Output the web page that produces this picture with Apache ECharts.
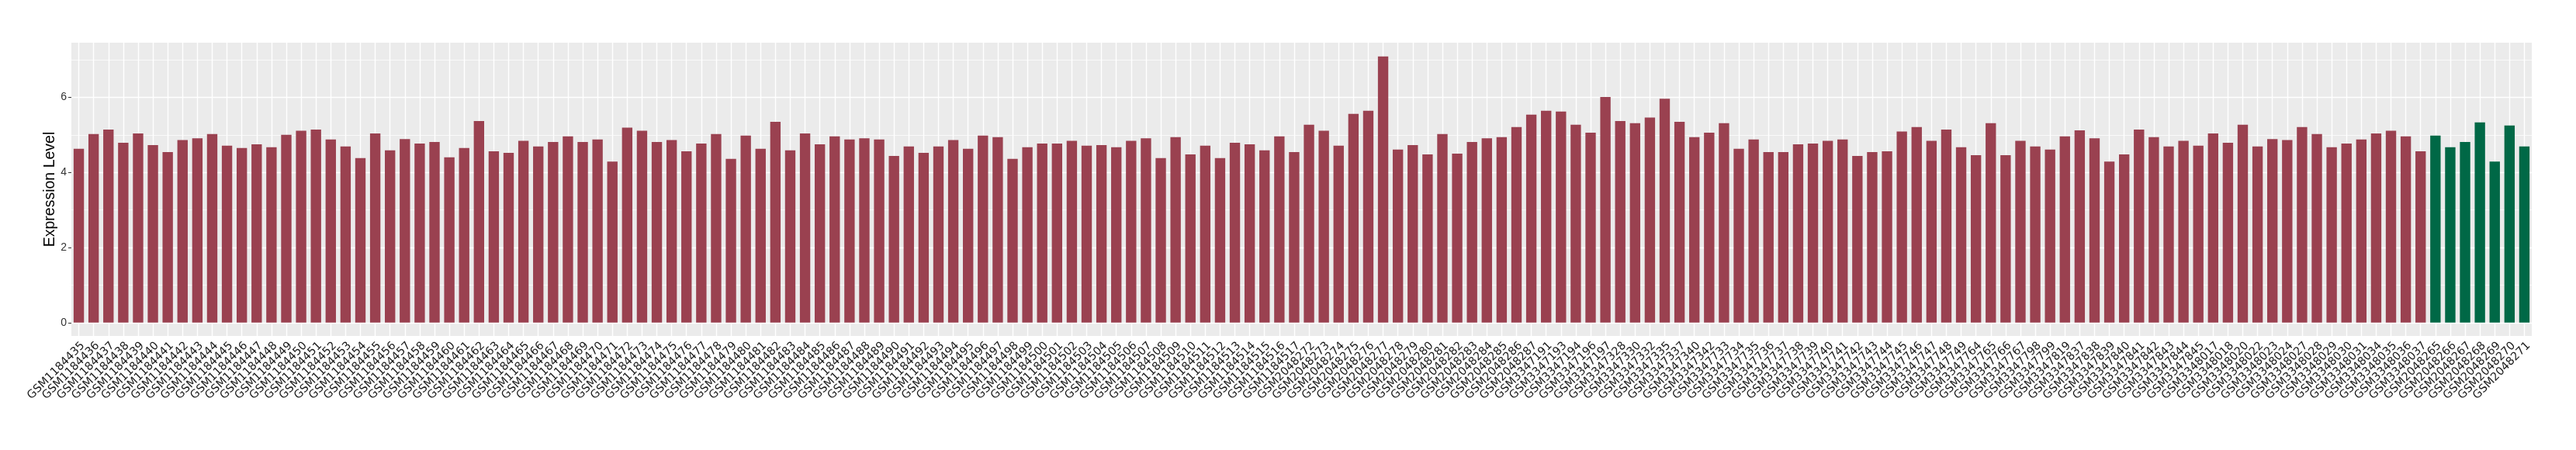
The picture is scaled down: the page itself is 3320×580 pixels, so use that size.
<!DOCTYPE html>
<html><head><meta charset="utf-8">
<script src="https://cdn.jsdelivr.net/npm/echarts@6/dist/echarts.min.js"></script>
<style>html,body{margin:0;padding:0;background:#fff}#c{width:3320px;height:580px}</style>
</head><body><div id="c"></div>
<script>
// ---- data ----
const groupASamples = [
 'GSM1184435','GSM1184436','GSM1184437','GSM1184438','GSM1184439','GSM1184440','GSM1184441','GSM1184442','GSM1184443','GSM1184444',
 'GSM1184445','GSM1184446','GSM1184447','GSM1184448','GSM1184449','GSM1184450','GSM1184451','GSM1184452','GSM1184453','GSM1184454',
 'GSM1184455','GSM1184456','GSM1184457','GSM1184458','GSM1184459','GSM1184460','GSM1184461','GSM1184462','GSM1184463','GSM1184464',
 'GSM1184465','GSM1184466','GSM1184467','GSM1184468','GSM1184469','GSM1184470','GSM1184471','GSM1184472','GSM1184473','GSM1184474',
 'GSM1184475','GSM1184476','GSM1184477','GSM1184478','GSM1184479','GSM1184480','GSM1184481','GSM1184482','GSM1184483','GSM1184484',
 'GSM1184485','GSM1184486','GSM1184487','GSM1184488','GSM1184489','GSM1184490','GSM1184491','GSM1184492','GSM1184493','GSM1184494',
 'GSM1184495','GSM1184496','GSM1184497','GSM1184498','GSM1184499','GSM1184500','GSM1184501','GSM1184502','GSM1184503','GSM1184504',
 'GSM1184505','GSM1184506','GSM1184507','GSM1184508','GSM1184509','GSM1184510','GSM1184511','GSM1184512','GSM1184513','GSM1184514',
 'GSM1184515','GSM1184516','GSM1184517',
 'GSM2048272','GSM2048273','GSM2048274','GSM2048275','GSM2048276','GSM2048277','GSM2048278','GSM2048279','GSM2048280','GSM2048281',
 'GSM2048282','GSM2048283','GSM2048284','GSM2048285','GSM2048286','GSM2048287',
 'GSM3347191','GSM3347193','GSM3347194','GSM3347196','GSM3347197',
 'GSM3347328','GSM3347330','GSM3347332','GSM3347335','GSM3347337','GSM3347340','GSM3347342',
 'GSM3347733','GSM3347734','GSM3347735','GSM3347736','GSM3347737','GSM3347738','GSM3347739','GSM3347740','GSM3347741','GSM3347742',
 'GSM3347743','GSM3347744','GSM3347745','GSM3347746','GSM3347747','GSM3347748','GSM3347749',
 'GSM3347764','GSM3347765','GSM3347766','GSM3347767',
 'GSM3347798','GSM3347799','GSM3347819',
 'GSM3347837','GSM3347838','GSM3347839','GSM3347840','GSM3347841','GSM3347842','GSM3347843','GSM3347844','GSM3347845',
 'GSM3348017','GSM3348018','GSM3348020','GSM3348022','GSM3348023','GSM3348024','GSM3348027','GSM3348028','GSM3348029','GSM3348030',
 'GSM3348031','GSM3348034','GSM3348035','GSM3348036','GSM3348037'
];
const groupAValues = [
 4.63,5.02,5.14,4.79,5.04,4.73,4.54,4.86,4.91,5.02,4.71,4.65,4.75,4.67,5.00,5.11,
 5.14,4.88,4.69,4.38,5.04,4.59,4.89,4.77,4.81,4.40,4.65,5.37,4.56,4.52,4.84,4.69,4.81,4.96,4.81,4.88,
 4.29,5.19,5.11,4.81,4.86,4.56,4.77,5.02,4.36,4.98,4.63,5.35,4.59,5.04,4.75,4.96,4.88,4.91,4.88,4.44,
 4.69,4.52,4.69,4.86,4.63,4.98,4.94,4.36,4.67,4.77,4.77,4.84,4.71,4.73,4.67,4.84,4.91,4.38,4.94,4.48,
 4.71,4.38,4.79,4.75,4.59,4.96,4.54,
 5.27,5.11,4.71,5.56,5.64,7.09,4.61,4.73,4.48,5.02,4.50,4.81,4.91,4.94,5.21,5.54,
 5.64,5.62,5.27,5.06,6.01,
 5.37,5.31,5.46,5.96,5.35,4.94,5.06,
 5.31,4.63,4.88,4.54,4.54,4.75,4.77,4.84,4.88,4.44,4.54,4.56,5.09,5.21,4.84,5.14,4.67,
 4.46,5.31,4.46,4.84,
 4.69,4.61,4.96,
 5.12,4.91,4.29,4.48,5.14,4.94,4.69,4.84,4.71,
 5.04,4.79,5.27,4.69,4.89,4.86,5.21,5.02,4.67,4.77,4.88,5.04,5.11,4.96,4.56
];
const groupBSamples = ['GSM2048265','GSM2048266','GSM2048267','GSM2048268','GSM2048269','GSM2048270','GSM2048271'];
const groupBValues = [4.98,4.67,4.81,5.33,4.29,5.25,4.69];
const yTickValues = [0,2,4,6];
const yMinorValues = [1,3,5,7];
const yTitle = 'Expression Level';
const colorA = '#9A4150';
const colorB = '#006846';

// ---- build ----
const categories = groupASamples.concat(groupBSamples);
const barData = groupAValues.map(v => ({value: v, itemStyle: {color: colorA}}))
  .concat(groupBValues.map(v => ({value: v, itemStyle: {color: colorB}})));

const gridLines = []
  .concat(yMinorValues.map(v => ({yAxis: v, lineStyle: {color: '#FFFFFF', width: 0.7, type: 'solid'}})))
  .concat(yTickValues.map(v => ({yAxis: v, lineStyle: {color: '#FFFFFF', width: 1.4, type: 'solid'}})))
  .concat(categories.map(c => ({xAxis: c, lineStyle: {color: '#FFFFFF', width: 1.4, type: 'solid'}})));

const chart = echarts.init(document.getElementById('c'), null, {renderer: 'canvas'});
chart.setOption({
  animation: false,
  grid: {left: 92, right: 57, top: 55, bottom: 147, show: true, backgroundColor: '#EBEBEB', borderWidth: 0, z: 0},
  xAxis: {
    type: 'category', data: categories, boundaryGap: true,
    axisLine: {show: false},
    axisTick: {show: true, alignWithLabel: true, interval: 0, length: 4, lineStyle: {color: '#333333', width: 1}},
    axisLabel: {interval: 0, rotate: 45, margin: 5, verticalAlign: 'top', fontFamily: 'DejaVu Sans', fontSize: 14.5, color: '#1A1A1A'},
    splitLine: {show: false}
  },
  yAxis: {
    type: 'value', min: -0.355, max: 7.455,
    name: yTitle, nameLocation: 'middle', nameGap: 17, nameRotate: 90, nameMoveOverlap: false,
    nameTextStyle: {fontFamily: 'Liberation Sans', fontSize: 19.5, color: '#000000'},
    axisLine: {show: false}, splitLine: {show: false},
    axisTick: {show: true, length: 4, customValues: yTickValues, lineStyle: {color: '#333333', width: 1}},
    axisLabel: {customValues: yTickValues, margin: 6, fontFamily: 'Liberation Sans', fontSize: 14, color: '#333333'}
  },
  series: [
    {type: 'line', data: [], z: 1, silent: true,
     markLine: {z: 1, silent: true, symbol: ['none', 'none'], label: {show: false}, animation: false, data: gridLines}},
    {type: 'bar', data: barData, barWidth: '70%', z: 3}
  ]
});
</script></body></html>
